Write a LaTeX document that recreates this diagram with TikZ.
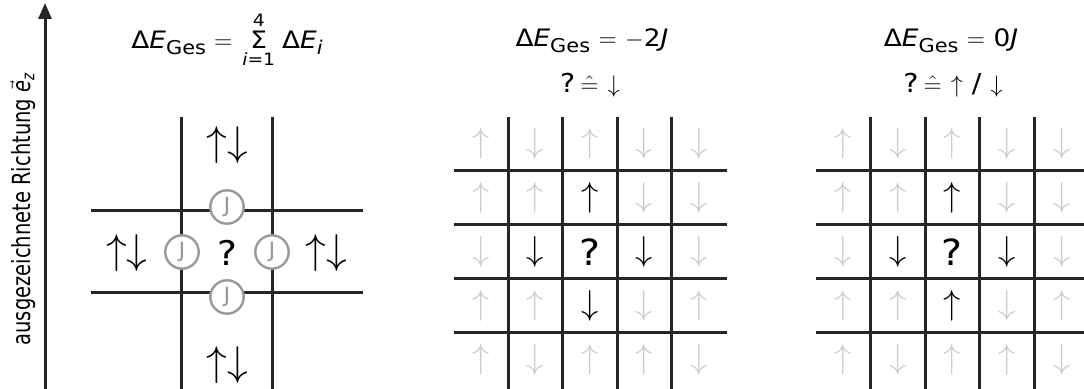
\documentclass[tikz,border=0pt]{standalone}
\usepackage{amsmath}
\usepackage{graphicx}
\usepackage{fontspec}
\setmainfont{DejaVu Sans}[FakeStretch=1.1]
\newfontfamily\labelfont{DejaVu Sans}
\usetikzlibrary{arrows.meta}

\definecolor{spinlight}{gray}{0.80}
\definecolor{couplegray}{gray}{0.60}

\newcommand{\cellu}{{\color{spinlight}$\uparrow$}}
\newcommand{\celld}{{\color{spinlight}$\downarrow$}}
\newcommand{\cellU}{$\uparrow$}
\newcommand{\cellD}{$\downarrow$}
\newcommand{\cellQ}{{\fontsize{18}{18}\selectfont ?}}
\newcommand{\sub}[1]{\raisebox{-2.7pt}{\fontsize{9.5}{9.5}\selectfont #1}}
\newcommand{\sumlim}[1]{\text{\fontsize{8.5}{8.5}\selectfont #1}}

\begin{document}
\begin{tikzpicture}[
  x=0.5pt, y=-0.5pt, font=\fontsize{12}{14}\selectfont,
  gridline/.style={line width=1.5pt,black!85},
  axis/.style={line width=1.5pt,black!85,-{Triangle[length=8pt,width=6.5pt]}},
  spin/.style={font=\fontsize{17.5}{17.5}\selectfont,inner sep=0pt},
  pair/.style={font=\fontsize{19.5}{19.5}\selectfont,inner sep=0pt},
  rule/.style={anchor=base,font=\fontsize{13}{15}\selectfont},
  coupling/.style={circle,draw=couplegray,line width=1.2pt,fill=white,minimum size=16.7pt,
    inner sep=0pt,text=couplegray,font=\fontsize{10.5}{10.5}\selectfont},
]
\useasboundingbox (0,0) rectangle (1084,389);

\coordinate (axisfoot) at (45,389);
\coordinate (axishead) at (45,3);
\draw[axis] (axisfoot) -- (axishead);
\node[rotate=90] (dirlabel) at (23,209)
  {\labelfont\fontsize{12.5}{14}\selectfont\scalebox{0.78}[1]{ausgezeichnete Richtung $\vec{\textit{e}}_{\textit{z}}$}};

\node[anchor=base] (sumtitle) at (227,49)
  {Δ\textit{E}\sub{Ges}\kern4pt$=$\kern5pt$\mathop{\text{Σ}}\limits_{\sumlim{\textit{i}=1}}^{\sumlim{4}}$\kern3.5ptΔ\textit{E}\sub{\textit{i}}};
\node[anchor=base] (downtitle) at (592,47) {Δ\textit{E}\sub{Ges} $=$ $-$2\textit{J}};
\node[rule] (downrule) at (590,93) {?\kern2.5pt$\hat{=}$ $\downarrow$};
\node[anchor=base] (zerotitle) at (951,47) {Δ\textit{E}\sub{Ges} $=$ 0\textit{J}};
\node[rule] (zerorule) at (953,93) {?\kern2.5pt$\hat{=}$ $\uparrow$ / $\downarrow$};

\draw[gridline] (181.5,117) -- (181.5,389);
\draw[gridline] (272.5,117) -- (272.5,389);
\draw[gridline] (91,211) -- (363,211);
\draw[gridline] (91,293) -- (363,293);

\node[pair] (centre) at (227,253) {\fontsize{17}{17}\selectfont ?};
\node[pair] (nbtop) at (227,145) {$\uparrow\downarrow$};
\node[pair] (nbleft) at (127,253) {$\uparrow\downarrow$};
\node[pair] (nbright) at (326,253) {$\uparrow\downarrow$};
\node[pair] (nbbottom) at (227,365) {$\uparrow\downarrow$};
\node[coupling] (jtop) at (227,207) {J};
\node[coupling] (jleft) at (182,252) {J};
\node[coupling] (jright) at (272,252) {J};
\node[coupling] (jbottom) at (227,297) {J};

\foreach \gx/\lowspin in {590/D,952.5/U} {
  \foreach \k in {-1.5,-0.5,0.5,1.5} {
    \draw[gridline] (\gx+\k*54.6,117) -- (\gx+\k*54.6,389);
    \draw[gridline] (\gx-136.5,252+\k*54) -- (\gx+136.5,252+\k*54);
  }
  \foreach \row [count=\r from -2] in {{u,d,u,d,d},{u,u,U,d,d},{d,D,Q,D,d},{u,u,\lowspin,d,u},{u,d,u,u,d}}
    \foreach \s [count=\c from -2] in \row
      \node[spin] at (\gx+\c*54.6,252+\r*54) {\csname cell\s\endcsname};
}
\end{tikzpicture}
\end{document}
